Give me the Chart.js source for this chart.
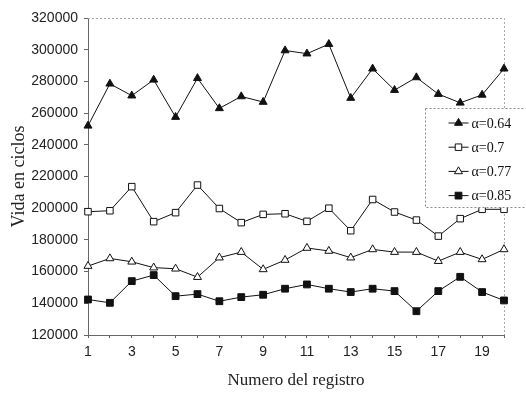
<!DOCTYPE html>
<html>
<head>
<meta charset="utf-8">
<script src="https://cdn.jsdelivr.net/npm/chart.js@4/dist/chart.umd.min.js"></script>
<style>
  html, body { margin: 0; padding: 0; background: #fff; }
  #wrap { width: 526px; height: 399px; }
</style>
</head>
<body>
<div id="wrap"><canvas id="grafica" width="526" height="399"></canvas></div>
<script>
// numero de registro (eje x)
const registros = ['1','2','3','4','5','6','7','8','9','10','11','12','13','14','15','16','17','18','19','20'];

// vida en ciclos para cada alfa
const alfa064 = [252000, 278500, 271000, 281000, 257500, 282000, 263000, 270500, 267000, 299500,
                 297500, 303500, 269500, 288000, 274500, 282500, 272000, 266500, 271500, 288000];
const alfa07  = [197800, 198400, 213600, 191500, 197200, 214600, 199800, 190900, 196100, 196500,
                 191700, 200000, 185800, 205500, 197600, 192500, 182400, 193400, 199300, 199300];
const alfa077 = [163500, 168300, 166200, 162500, 161800, 156500, 168800, 172300, 161400, 167300,
                 174900, 173000, 168800, 174000, 172300, 172300, 166600, 172300, 167700, 174000];
const alfa085 = [142400, 140300, 154000, 157800, 144500, 145800, 141300, 143900, 145400, 149200,
                 151900, 149200, 147100, 149200, 147700, 135000, 147700, 156700, 147100, 141800];

const etiquetas = ['\u03B1=0.64', '\u03B1=0.7', '\u03B1=0.77', '\u03B1=0.85'];

function serie(nombre, datos, estilo, relleno, radio) {
    return {
        label: nombre,
        data: datos,
        borderColor: '#111',
        borderWidth: 1,
        pointStyle: estilo,
        pointRadius: radio,
        pointBackgroundColor: relleno,
        pointBorderColor: '#111',
        pointBorderWidth: 1,
        tension: 0,
        fill: false
    };
}

// marco punteado arriba/derecha y leyenda en recuadro
const marco = {
    id: 'marco',
    beforeDatasetsDraw(chart) {
        const a = chart.chartArea;
        const ctx = chart.ctx;
        ctx.save();
        ctx.strokeStyle = '#a8a8a8';
        ctx.lineWidth = 1;
        ctx.setLineDash([2, 2]);
        ctx.beginPath();
        ctx.moveTo(a.left, a.top + 0.5);
        ctx.lineTo(a.right + 0.5, a.top + 0.5);
        ctx.lineTo(a.right + 0.5, a.bottom);
        ctx.stroke();
        ctx.restore();
    },
    afterDraw(chart) {
        const a = chart.chartArea;
        const ctx = chart.ctx;
        const x0 = a.right - 78.5;
        const y0 = 108.5;
        ctx.save();
        ctx.fillStyle = '#fff';
        ctx.fillRect(x0, y0, 110, 99);
        ctx.strokeStyle = '#8a8a8a';
        ctx.lineWidth = 1;
        ctx.setLineDash([2, 2]);
        ctx.strokeRect(x0, y0, 110, 99);
        ctx.setLineDash([]);
        chart.data.datasets.forEach(function (ds, i) {
            const y = 123 + i * 24.2;
            ctx.strokeStyle = '#111';
            ctx.beginPath();
            ctx.moveTo(x0 + 23, y);
            ctx.lineTo(x0 + 43, y);
            ctx.stroke();
            ctx.fillStyle = ds.pointBackgroundColor;
            ctx.strokeStyle = '#111';
            ctx.lineWidth = 1;
            Chart.helpers.drawPoint(ctx, {
                pointStyle: ds.pointStyle,
                radius: ds.pointRadius,
                rotation: 0,
                borderWidth: 1
            }, x0 + 33, y);
            ctx.fillStyle = '#111';
            ctx.font = '14px "Liberation Serif"';
            ctx.textBaseline = 'middle';
            ctx.fillText(ds.label, x0 + 46, y + 1);
        });
        ctx.restore();
    }
};

const chart = new Chart(document.getElementById('grafica'), {
    type: 'line',
    data: {
        labels: registros,
        datasets: [
            serie(etiquetas[0], alfa064, 'triangle', '#111', 4.6),
            serie(etiquetas[1], alfa07, 'rect', '#fff', 4.6),
            serie(etiquetas[2], alfa077, 'triangle', '#fff', 4.6),
            serie(etiquetas[3], alfa085, 'rect', '#111', 4.8)
        ]
    },
    options: {
        responsive: false,
        animation: false,
        layout: { padding: { top: 18, right: 22, left: 0, bottom: 0 } },
        plugins: {
            legend: { display: false },
            tooltip: { enabled: false }
        },
        scales: {
            x: {
                type: 'category',
                offset: false,
                afterFit: function (s) { s.height = 64; },
                grid: { drawOnChartArea: false, tickLength: 3, color: '#666' },
                border: { color: '#666', width: 1 },
                ticks: {
                    autoSkip: false,
                    maxRotation: 0,
                    padding: 6,
                    color: '#222',
                    font: { family: '"Liberation Sans"', size: 14 },
                    callback: function (v, i) { return i % 2 === 0 ? registros[i] : ''; }
                },
                title: {
                    display: true,
                    text: 'Numero del registro',
                    color: '#222',
                    font: { family: '"Liberation Serif"', size: 17 },
                    padding: { top: 0, bottom: 8 }
                }
            },
            y: {
                min: 120000,
                max: 320000,
                afterFit: function (s) { s.width = 88; },
                grid: { drawOnChartArea: false, tickLength: 4, color: '#666' },
                border: { color: '#666', width: 1 },
                ticks: {
                    stepSize: 20000,
                    padding: 6,
                    color: '#222',
                    font: { family: '"Liberation Sans"', size: 14 },
                    callback: function (v) { return String(v); }
                },
                title: {
                    display: true,
                    text: 'Vida en ciclos',
                    color: '#222',
                    font: { family: '"Liberation Serif"', size: 18 },
                    padding: { top: 8, bottom: 0 }
                }
            }
        }
    },
    plugins: [marco]
});
</script>
</body>
</html>
